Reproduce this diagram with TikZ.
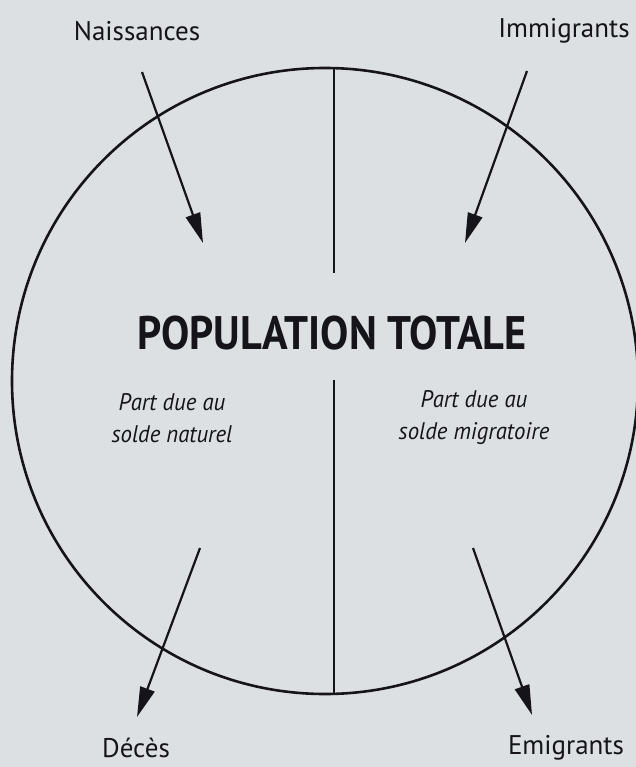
\documentclass[tikz,border=0pt]{standalone}
\usepackage{fontspec}
\setmainfont{PT Sans}
\usetikzlibrary{arrows.meta}
\definecolor{bg}{RGB}{221,224,226}
\definecolor{ink}{RGB}{20,20,26}
\begin{document}
\begin{tikzpicture}[x=1pt,y=-1pt,
  lbl/.style={font=\fontsize{27}{30}\selectfont, text=ink, inner sep=0pt},
  part/.style={font=\fontsize{24}{32}\selectfont\itshape, align=center, text=ink, inner sep=0pt},
  titlestyle/.style={font=\fontsize{47}{50}\selectfont\bfseries, text=ink, inner sep=0pt},
  flow/.style={line width=2.2pt, draw=ink, -{Triangle[length=30pt,width=15pt]}},
  divider/.style={line width=2pt, draw=ink},
]
\fill[bg] (0,0) rectangle (636,767);
\useasboundingbox (0,0) rectangle (636,767);
% circle
\node[circle, draw=ink, line width=2.6pt, minimum size=626pt, inner sep=0pt] (pop) at (325,381) {};
% divider
\coordinate (vtop) at (334,68.1);
\coordinate (vmid1) at (334,273);
\coordinate (vmid2) at (334,380);
\coordinate (vbot) at (334,693.9);
\draw[divider] (vtop) -- (vmid1);
\draw[divider] (vmid2) -- (vbot);
% texts
\node[titlestyle] (title) at (332,333) {\scalebox{0.9}[1]{POPULATION TOTALE}};
\node[part] (nat) at (172,418) {\scalebox{0.95}[1]{Part due au}\\\scalebox{0.95}[1]{solde naturel}};
\node[part] (mig) at (474,418) {\scalebox{0.95}[1]{Part due au}\\\scalebox{0.95}[1]{solde migratoire}};
\node[lbl] (naiss) at (137,31) {Naissances};
\node[lbl] (immi) at (564,31) {Immigrants};
\node[lbl] (deces) at (136,748) {Décès};
\node[lbl] (emig) at (566,748) {Emigrants};
% arrows
\coordinate (n1) at (142,72);
\coordinate (n2) at (203,243);
\coordinate (i1) at (527,71);
\coordinate (i2) at (465,243);
\coordinate (d1) at (200,548);
\coordinate (d2) at (137,717);
\coordinate (e1) at (473,548);
\coordinate (e2) at (532,715);
\draw[flow] (n1) -- (n2);
\draw[flow] (i1) -- (i2);
\draw[flow] (d1) -- (d2);
\draw[flow] (e1) -- (e2);
\end{tikzpicture}
\end{document}
